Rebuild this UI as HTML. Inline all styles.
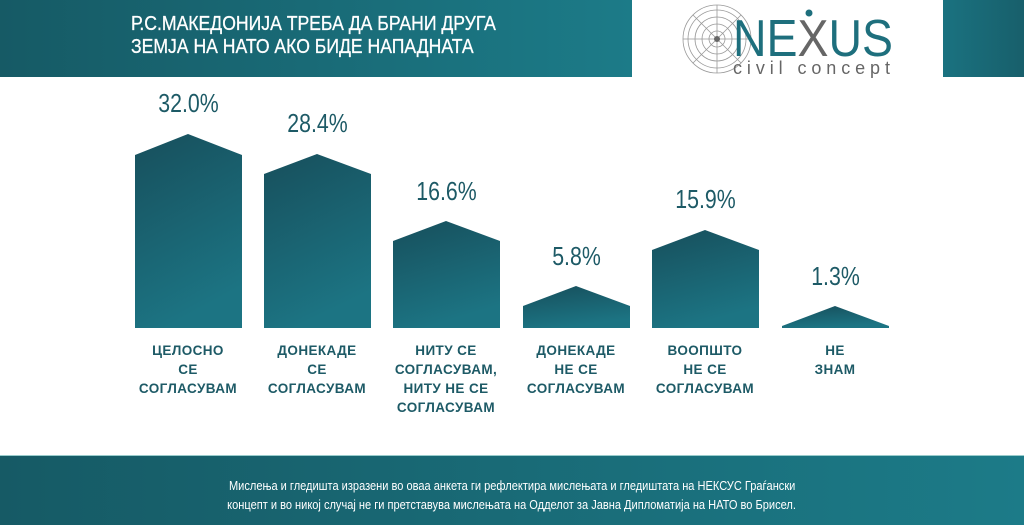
<!DOCTYPE html>
<html><head><meta charset="utf-8"><style>
body{margin:0;width:1024px;height:524px;background:#fff;position:relative;overflow:hidden;font-family:"Liberation Sans",sans-serif}
.hd{position:absolute;top:0;left:0;width:632px;height:77px;background:linear-gradient(90deg,#165a65,#1c7b88)}
.hd2{position:absolute;top:0;left:943px;width:81px;height:77px;background:linear-gradient(90deg,#1a7280,#185f6b)}
.title{position:absolute;left:131px;top:13px;color:#fff;font-size:20px;line-height:23px;transform:scaleX(.88);transform-origin:0 0;white-space:nowrap;-webkit-text-stroke:0.3px #fff}
.ft{position:absolute;left:0;top:455px;width:1024px;height:69px;background:linear-gradient(90deg,#165a65,#1c7b88);border-top:1px solid #9cc}
.ftt{position:absolute;left:0;width:1024px;top:20px;text-align:center;color:#fff;font-size:13px;line-height:19px}
.ftt span{display:inline-block;transform:scaleX(.85)}
.pct{position:absolute;width:107px;text-align:center;color:#1d5a66;font-size:26px;transform:scaleX(.82)}
.lab{position:absolute;width:140px;text-align:center;color:#1d5a66;font-size:13.5px;font-weight:bold;line-height:19px;letter-spacing:.4px}
</style></head><body>
<div class="hd"></div><div class="hd2"></div>
<div class="title">Р.С.МАКЕДОНИЈА ТРЕБА ДА БРАНИ ДРУГА<br>ЗЕМЈА НА НАТО АКО БИДЕ НАПАДНАТА</div>
<svg style="position:absolute;left:0;top:0" width="1024" height="524">
<defs><linearGradient id="g" x1="0" y1="0" x2="0.3" y2="1"><stop offset="0" stop-color="#174f5c"/><stop offset="1" stop-color="#1c7483"/></linearGradient></defs>
<polygon fill="url(#g)" points="135,328 135,155 188,134 242,155 242,328"/>
<polygon fill="url(#g)" points="264,328 264,174 317,154 371,174 371,328"/>
<polygon fill="url(#g)" points="393,328 393,241 446,221 500,241 500,328"/>
<polygon fill="url(#g)" points="523,328 523,306 576,286 630,306 630,328"/>
<polygon fill="url(#g)" points="652,328 652,250 705,230 759,250 759,328"/>
<polygon fill="url(#g)" points="782,328 782,326 835,306 889,326 889,328"/>
<g stroke="#999" stroke-width="0.8" fill="none">
<circle cx="717" cy="39" r="8"/><circle cx="717" cy="39" r="15"/><circle cx="717" cy="39" r="22"/><circle cx="717" cy="39" r="29"/><circle cx="717" cy="39" r="34"/>
<line x1="683" y1="39" x2="751" y2="39"/><line x1="717" y1="5" x2="717" y2="73"/><line x1="693" y1="15" x2="741" y2="63"/><line x1="741" y1="15" x2="693" y2="63"/>
</g>
<circle cx="717" cy="39" r="3" fill="#666"/>
<text x="733" y="56" font-size="52" fill="#1e6f7d" textLength="160" lengthAdjust="spacingAndGlyphs" font-family="Liberation Sans">NE<tspan fill="#666">X</tspan>US</text>
<circle cx="809" cy="13" r="3.5" fill="#1e6f7d"/>
<text x="733" y="74" font-size="18" fill="#666" textLength="157" lengthAdjust="spacing" font-family="Liberation Sans">civil concept</text>
</svg>
<div class="pct" style="left:135px;top:88px">32.0%</div>
<div class="pct" style="left:264px;top:108px">28.4%</div>
<div class="pct" style="left:393px;top:176px">16.6%</div>
<div class="pct" style="left:523px;top:241px">5.8%</div>
<div class="pct" style="left:652px;top:184px">15.9%</div>
<div class="pct" style="left:782px;top:261px">1.3%</div>
<div class="lab" style="left:118px;top:341px">ЦЕЛОСНО<br>СЕ<br>СОГЛАСУВАМ</div>
<div class="lab" style="left:247px;top:341px">ДОНЕКАДЕ<br>СЕ<br>СОГЛАСУВАМ</div>
<div class="lab" style="left:376px;top:341px">НИТУ СЕ<br>СОГЛАСУВАМ,<br>НИТУ НЕ СЕ<br>СОГЛАСУВАМ</div>
<div class="lab" style="left:506px;top:341px">ДОНЕКАДЕ<br>НЕ СЕ<br>СОГЛАСУВАМ</div>
<div class="lab" style="left:635px;top:341px">ВООПШТО<br>НЕ СЕ<br>СОГЛАСУВАМ</div>
<div class="lab" style="left:765px;top:341px">НЕ<br>ЗНАМ</div>
<div class="ft"><div class="ftt"><span>Мислења и гледишта изразени во оваа анкета ги рефлектира мислењата и гледиштата на НЕКСУС Граѓански</span><br><span>концепт и во никој случај не ги претставува мислењата на Одделот за Јавна Дипломатија на НАТО во Брисел.</span></div></div>
</body></html>
